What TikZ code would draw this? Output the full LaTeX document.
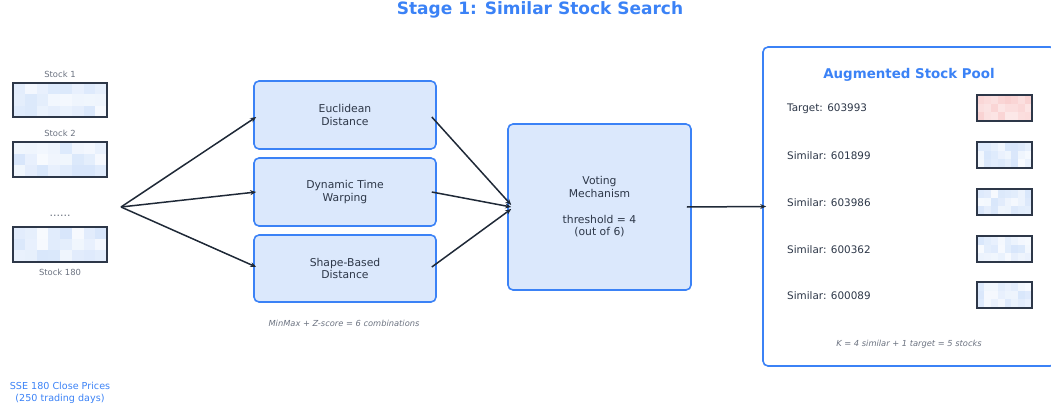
\documentclass[tikz,border=0pt]{standalone}
\usepackage{fontspec}
\setmainfont{DejaVu Sans}
\usetikzlibrary{arrows.meta}
\definecolor{accent}{HTML}{3B82F6}
\definecolor{boxfill}{HTML}{DBE8FC}
\definecolor{ink}{HTML}{2D3748}
\definecolor{mute}{HTML}{6B7280}
\definecolor{hmblue}{HTML}{D8E6FB}
\definecolor{hmred}{HTML}{F9CFCF}
\definecolor{arrowc}{HTML}{1F2937}
\tikzset{
  procbox/.style={draw=accent, fill=boxfill, line width=1.6pt, rounded corners=5pt, text=ink, align=center, inner sep=0pt, font=\fontsize{10.8}{12.8}\selectfont},
  hmframe/.style={draw=ink, line width=1.2pt, inner sep=0pt, outer sep=0pt},
  lbl/.style={text=mute, font=\fontsize{8.4}{10}\selectfont, inner sep=0pt},
  item/.style={text=ink, font=\fontsize{10.4}{12}\selectfont, inner sep=0pt, anchor=west},
  note/.style={text=mute, font=\fontsize{8.3}{10}\itshape\selectfont, inner sep=0pt},
  flow/.style={draw=arrowc, line width=1.5pt, -{Stealth[length=6pt,width=5pt]}},
}
\newcommand\hmap[7]{%
  \foreach \i in {0,...,7}{\foreach \j in {0,1,2}{%
    \pgfmathsetmacro\s{random(#7,100)}%
    \fill[#6!\s!white] ({#2+\i*#4/8},{#3+\j*#5/3}) rectangle ++({#4/8},{#5/3});
  }}%
  \node[hmframe, minimum width=#4pt, minimum height=#5pt, anchor=north west] (#1) at (#2,#3) {};
}
\begin{document}
\begin{tikzpicture}[x=1pt,y=-1pt]
\pgfmathsetseed{7}
\useasboundingbox (0,0) rectangle (1051,412);
\clip (0,0) rectangle (1051,412);

% title
\node[text=accent, font=\fontsize{17}{20}\bfseries\selectfont] (title) at (540,10) {Stage 1: Similar Stock Search};

% left stocks
\node[lbl] (l1) at (60,74) {Stock 1};
\hmap{s1}{13}{83}{94}{34}{hmblue}{20}
\node[lbl] (l2) at (60,133) {Stock 2};
\hmap{s2}{13}{142}{94}{35}{hmblue}{20}
\node[text=mute, font=\fontsize{11}{13}\selectfont, inner sep=0pt] (dots) at (60,216) {......};
\hmap{s180}{13}{227}{94}{35}{hmblue}{20}
\node[lbl] (l180) at (60,272) {Stock 180};
\node[text=accent, align=center, font=\fontsize{9.6}{11.5}\selectfont, inner sep=0pt] (src) at (60,393) {SSE 180 Close Prices\\(250 trading days)};

\coordinate (fan) at (121,207);

% distance boxes
\node[procbox, minimum width=182pt, minimum height=68pt] (euc) at (345,115) {Euclidean\\Distance};
\node[procbox, minimum width=182pt, minimum height=68pt] (dtw) at (345,192) {Dynamic Time\\Warping};
\node[procbox, minimum width=182pt, minimum height=67pt] (sbd) at (345,268.5) {Shape-Based\\Distance};
\node[note] (combo) at (344,323) {MinMax + Z-score = 6 combinations};

% voting
\node[procbox, minimum width=183pt, minimum height=166pt] (vote) at (599.5,207) {Voting\\Mechanism\\[12.8pt]threshold = 4\\(out of 6)};

% pool
\node[draw=accent, line width=1.6pt, rounded corners=5pt, fill=white, minimum width=292pt, minimum height=319pt, inner sep=0pt] (pool) at (909,206.5) {};
\node[text=accent, font=\fontsize{13.4}{16}\bfseries\selectfont] (ptitle) at (909,75) {Augmented Stock Pool};
\node[item] (t0) at (787,109) {Target: 603993};
\hmap{h0}{977}{95}{55}{26}{hmred}{45}
\node[item] (t1) at (787,156) {Similar: 601899};
\hmap{h1}{977}{142}{55}{26}{hmblue}{20}
\node[item] (t2) at (787,203) {Similar: 603986};
\hmap{h2}{977}{189}{55}{26}{hmblue}{20}
\node[item] (t3) at (787,250) {Similar: 600362};
\hmap{h3}{977}{236}{55}{26}{hmblue}{20}
\node[item] (t4) at (787,296) {Similar: 600089};
\hmap{h4}{977}{282}{55}{26}{hmblue}{20}
\node[note] (knote) at (909,344) {K = 4 similar + 1 target = 5 stocks};

% connectors
\draw[flow] (fan) -- ([xshift=3pt,yshift=-2pt]euc.west);
\draw[flow] (fan) -- ([xshift=3pt]dtw.west);
\draw[flow] (fan) -- ([xshift=3pt,yshift=1.5pt]sbd.west);
\draw[flow] ([xshift=-5pt,yshift=-2pt]euc.east) -- ([xshift=4pt,yshift=2pt]vote.west);
\draw[flow] ([xshift=-5pt]dtw.east) -- ([xshift=4pt]vote.west);
\draw[flow] ([xshift=-5pt,yshift=1.5pt]sbd.east) -- ([xshift=4pt,yshift=-2pt]vote.west);
\draw[flow] ([xshift=-5pt]vote.east) -- ([xshift=4pt]pool.west);
\end{tikzpicture}
\end{document}
